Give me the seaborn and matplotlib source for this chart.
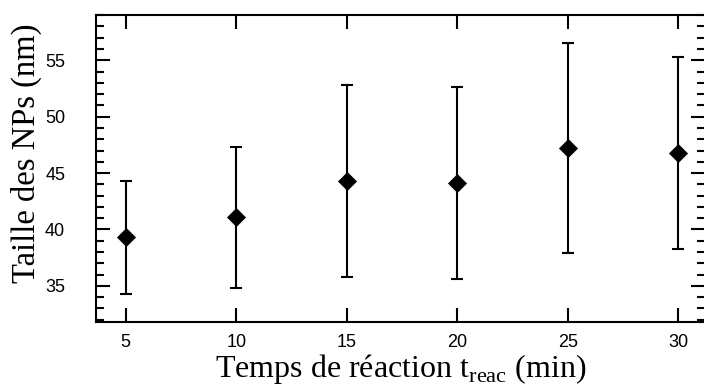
import matplotlib
matplotlib.use("Agg")
import matplotlib.pyplot as plt
from matplotlib.ticker import MultipleLocator
import seaborn as sns
import pandas as pd

# Reaction time (min), mean nanoparticle size (nm) and its spread (nm)
reaction_time = [5, 10, 15, 20, 25, 30]
size_mean = [39.3, 41.1, 44.3, 44.1, 47.2, 46.8]
size_err_low = [5.0, 6.25, 8.5, 8.5, 9.3, 8.5]
size_err_high = [5.0, 6.2, 8.5, 8.5, 9.3, 8.5]
x_ticks = [5, 10, 15, 20, 25, 30]
y_ticks = [35, 40, 45, 50, 55]

df = pd.DataFrame({"t": reaction_time, "taille": size_mean})

sns.set_theme(style="ticks")
plt.rcParams["font.family"] = ["Liberation Sans", "DejaVu Sans"]
plt.rcParams["mathtext.fontset"] = "custom"
plt.rcParams["mathtext.rm"] = "Liberation Serif"

fig = plt.figure(figsize=(7.04, 3.87), dpi=100)
ax = fig.add_axes([0.136, 0.168, 1.002 - 0.136, 0.962 - 0.168])

ax.errorbar(reaction_time, size_mean, yerr=[size_err_low, size_err_high],
            fmt="none", ecolor="black", elinewidth=1.5, capsize=4.5,
            capthick=1.5, zorder=2)
sns.scatterplot(data=df, x="t", y="taille", marker="D", s=85,
                color="black", edgecolor="black", linewidth=0.5, ax=ax,
                zorder=3)

ax.set_xlim(3.64, 31.22)
ax.set_ylim(31.8, 59.04)
ax.set_xticks(x_ticks)
ax.set_yticks(y_ticks)
ax.yaxis.set_minor_locator(MultipleLocator(1))

for side in ["top", "right", "bottom", "left"]:
    ax.spines[side].set_visible(True)
    ax.spines[side].set_linewidth(1.5)
    ax.spines[side].set_color("black")

ax.tick_params(axis="both", which="major", direction="in", length=10,
               width=1.5, labelsize=13, color="black", labelcolor="black",
               top=True, right=True)
ax.tick_params(axis="x", which="major", pad=9)
ax.tick_params(axis="y", which="major", pad=22)
ax.tick_params(axis="y", which="minor", direction="in", length=6,
               width=1.5, color="black", right=True, left=True)
ax.tick_params(axis="x", which="minor", bottom=False, top=False)

serif = ["Liberation Serif", "DejaVu Serif"]
ax.set_xlabel(r"Temps de réaction t$_{\rm reac}$ (min)", fontsize=23,
              family=serif, color="black", labelpad=0.5)
ax.set_ylabel("Taille des NPs (nm)", fontsize=23.5, family=serif,
              color="black", labelpad=2, y=0.55)

fig.savefig("out.png", dpi=100)
